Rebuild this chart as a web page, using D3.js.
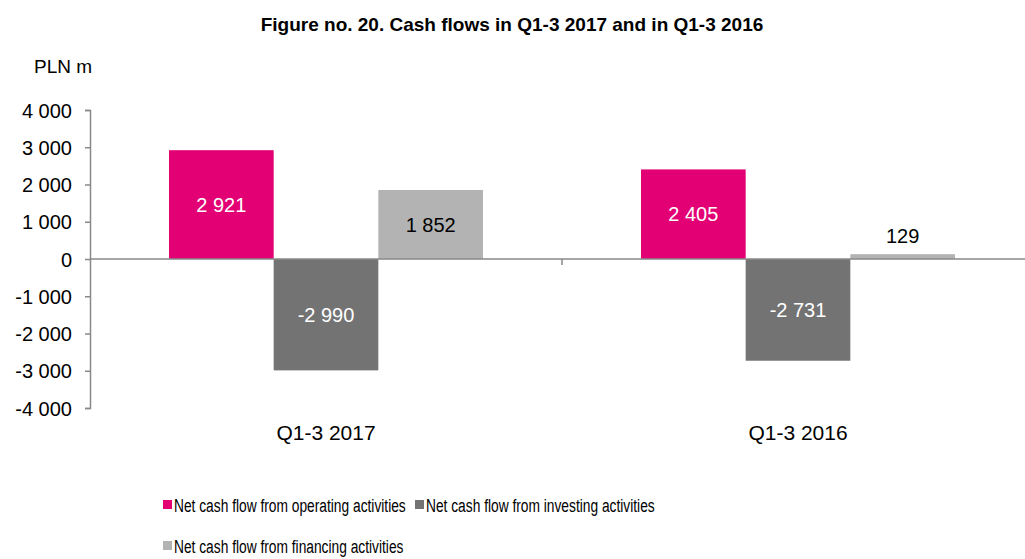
<!DOCTYPE html>
<meta charset="utf-8">
<style>
body { margin: 0; background: #fff; }
svg { font-family: "Liberation Sans", Arial, sans-serif; }
.axis path, .axis line { stroke: #898989; stroke-width: 1.5px; }
.axis text { font-size: 20px; fill: #000; }
.legend text { font-size: 19px; }
</style>
<body>
<script src="https://d3js.org/d3.v7.min.js"></script>
<script>

// data
var periods = ["Q1-3 2017", "Q1-3 2016"];
var seriesNames = ["Net cash flow from operating activities",
                   "Net cash flow from investing activities",
                   "Net cash flow from financing activities"];
var operating = [2921, 2405];
var investing = [-2990, -2731];
var financing = [1852, 129];
var yTicks = [-4000, -3000, -2000, -1000, 0, 1000, 2000, 3000, 4000];

var colors = ["#e20074", "#737373", "#b3b3b3"];
var labelColors = ["#fff", "#fff", "#000"];

var width = 1025, height = 559;
var margin = {left: 90, right: -9, top: 110, bottom: 152};

// thousands with a space, plain hyphen for minus
var fmt = function(d) { return d3.format(",")(d).replace(/,/g, " ").replace("\u2212", "-"); };

var svg = d3.select("body").append("svg")
    .attr("width", width)
    .attr("height", height);

var x0 = d3.scaleBand()
    .domain(periods)
    .range([margin.left, width - margin.right]);

var x1 = d3.scaleBand()
    .domain(d3.range(3))
    .range([0, x0.bandwidth()])
    .paddingOuter(0.755)
    .paddingInner(0);

var y = d3.scaleLinear()
    .domain([-4000, 4000])
    .range([height - margin.bottom + 1, margin.top]);

// title
svg.append("text")
    .attr("x", 512).attr("y", 31)
    .attr("text-anchor", "middle")
    .style("font-weight", "bold").style("font-size", "19px")
    .text("Figure no. 20. Cash flows in Q1-3 2017 and in Q1-3 2016");

svg.append("text")
    .attr("x", 34).attr("y", 73)
    .style("font-size", "19px")
    .text("PLN m");

// y axis
var yAxis = svg.append("g")
    .attr("class", "axis")
    .attr("transform", "translate(" + margin.left + ",0)")
    .call(d3.axisLeft(y).tickValues(yTicks).tickSizeOuter(0).tickSize(5).tickPadding(13)
      .tickFormat(fmt));
yAxis.selectAll("text").attr("dy", "0.35em");

var values = [operating, investing, financing];
var rows = [];
periods.forEach(function(p, i) {
  values.forEach(function(v, s) {
    rows.push({period: p, s: s, value: v[i]});
  });
});

// bars
svg.selectAll("rect.bar")
    .data(rows)
    .enter().append("rect")
    .attr("class", "bar")
    .attr("x", function(d) { return x0(d.period) + x1(d.s); })
    .attr("width", x1.bandwidth())
    .attr("y", function(d) { return y(Math.max(0, d.value)); })
    .attr("height", function(d) { return Math.abs(y(d.value) - y(0)); })
    .attr("fill", function(d) { return colors[d.s]; });

// zero line and category divider
svg.append("line")
    .attr("x1", margin.left).attr("x2", width)
    .attr("y1", y(0)).attr("y2", y(0))
    .attr("stroke", "#898989").attr("stroke-width", 1.5);

svg.append("line")
    .attr("x1", x0("Q1-3 2016")).attr("x2", x0("Q1-3 2016"))
    .attr("y1", y(0)).attr("y2", y(0) + 6)
    .attr("stroke", "#898989").attr("stroke-width", 1.5);

// value labels
svg.selectAll("text.val")
    .data(rows)
    .enter().append("text")
    .attr("class", "val")
    .attr("x", function(d) { return x0(d.period) + x1(d.s) + x1.bandwidth() / 2; })
    .attr("y", function(d) {
      var h = Math.abs(y(d.value) - y(0));
      if (h < 30) return y(d.value) - 18;
      return (y(d.value) + y(0)) / 2;
    })
    .attr("dy", "0.35em")
    .attr("text-anchor", "middle")
    .style("font-size", "20px")
    .attr("fill", function(d) {
      return Math.abs(y(d.value) - y(0)) < 30 ? "#000" : labelColors[d.s];
    })
    .text(function(d) { return fmt(d.value); });

// category labels
svg.selectAll("text.cat")
    .data(periods)
    .enter().append("text")
    .attr("class", "cat")
    .attr("x", function(d) { return x0(d) + x0.bandwidth() / 2; })
    .attr("y", 440)
    .attr("text-anchor", "middle")
    .style("font-size", "21px")
    .text(function(d) { return d; });

// legend (narrow type in the original, squeeze horizontally)
var legendPos = [[163, 505], [415, 505], [163, 546]];
var legend = svg.selectAll("g.legend")
    .data(seriesNames)
    .enter().append("g")
    .attr("class", "legend")
    .attr("transform", function(d, i) { return "translate(" + legendPos[i][0] + "," + legendPos[i][1] + ")"; });

legend.append("rect")
    .attr("x", 0).attr("y", -5)
    .attr("width", 9).attr("height", 9)
    .attr("fill", function(d, i) { return colors[i]; });

legend.append("text")
    .attr("transform", "translate(11,0) scale(0.725,1)")
    .attr("dy", "0.35em")
    .text(function(d) { return d; });

</script>
</body>
